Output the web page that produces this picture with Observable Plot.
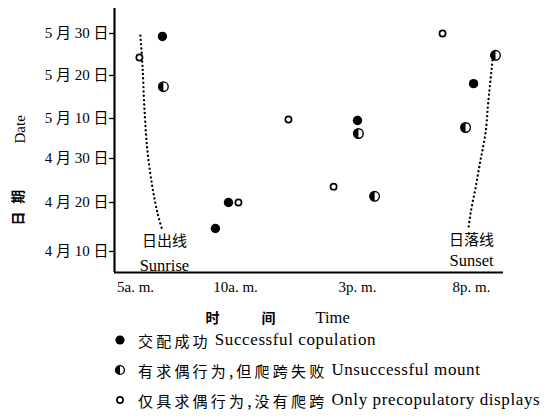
<!DOCTYPE html>
<html><head><meta charset="utf-8">
<script src="https://cdn.jsdelivr.net/npm/d3@7"></script>
<script src="https://cdn.jsdelivr.net/npm/@observablehq/plot@0.6"></script>
<style>
body{margin:0;background:#fff;}
#wrap{position:relative;width:556px;height:417px;overflow:hidden;font-family:"Liberation Serif","Noto Sans CJK SC",serif;color:#000;}
#legend{position:absolute;left:0;top:325px;}
.row{height:30px;display:flex;align-items:center;padding-left:114px;white-space:nowrap;}
.row svg{margin-right:12px;flex:none}
.cjk{font-family:"Noto Sans CJK SC";font-size:15px;letter-spacing:3.2px;}
.lat{font-family:"Liberation Serif";font-size:17px;letter-spacing:0.6px;margin-left:4px;}
</style></head><body><div id="wrap"><div id="chart"></div><div id="legend"></div></div>
<script>
// hours of day (5 = 5 a.m., 20 = 8 p.m.); days counted from 0 April (40 = 10 May)
const successHour = [6.98, 9.71, 9.17, 20.09, 15.0];
const successDay  = [59.3, 20, 14.7, 48.1, 39.5];
const mountHour   = [7.02, 21.05, 19.74, 15.04, 15.75];
const mountDay    = [47.4, 54.8, 37.75, 36.25, 21.4];
const displayHour = [6.03, 10.12, 18.73, 12.17, 14.02];
const displayDay  = [54.3, 20, 60, 39.75, 23.6];
const sunriseHour = [6.07, 6.16, 6.24, 6.36, 6.57, 6.78, 6.98];
const sunriseDay  = [59.5, 51.9, 41.9, 32, 23.4, 17.8, 14.3];
const sunsetHour  = [20.92, 20.74, 20.61, 20.39, 20.18, 19.96, 19.87];
const sunsetDay   = [53.6, 44.2, 36.25, 29.5, 23.4, 17.8, 14.7];
const yTicks = [10, 20, 30, 40, 50, 60];
const yTickLabels = ["4 月 10 日", "4 月 20 日", "4 月 30 日", "5 月 10 日", "5 月 20 日", "5 月 30 日"];
const xTicks = [5, 10, 15, 20];
const xTickLabels = ["5a. m.", "10a. m.", "3p. m.", "8p. m."];
const legendLabels = [
  ["交配成功", "Successful copulation"],
  ["有求偶行为,但爬跨失败", "Unsuccessful mount"],
  ["仅具求偶行为,没有爬跨", "Only precopulatory displays"]
];

const pts = (hs, ds) => hs.map((h, i) => ({hour: h, day: ds[i]}));
const success = pts(successHour, successDay);
const mount = pts(mountHour, mountDay);
const display = pts(displayHour, displayDay);
const sunrise = pts(sunriseHour, sunriseDay);
const sunset = pts(sunsetHour, sunsetDay);

const halfLeft = {draw(ctx, size) {
  const r = Math.sqrt(size / Math.PI);
  ctx.moveTo(0, -r);
  ctx.arc(0, 0, r, -Math.PI / 2, Math.PI / 2, true);
  ctx.closePath();
}};

const serif = "Liberation Serif, Noto Sans CJK SC, serif";
const xDom = [5, 10, 15, 20, 21.4];
const yDom = [5.7, 10, 20, 30, 40, 50, 60, 65.95];
const tick = (ticks, labels) => d => labels[ticks.indexOf(d)];
const dotted = {x: "hour", y: "day", curve: "catmull-rom", stroke: "black", strokeWidth: 2.3, strokeDasharray: "0.1,4.2", strokeLinecap: "round"};

const chart = Plot.plot({
  width: 556, height: 328,
  marginLeft: 114, marginRight: 53, marginTop: 8, marginBottom: 56,
  style: {fontFamily: serif, fontSize: "14px", color: "black", background: "white"},
  x: {type: "linear", domain: xDom, range: [114, 235, 357, 471, 503]},
  y: {type: "linear", domain: yDom, range: [272, 251, 202, 158, 118, 75, 33, 8]},
  marks: [
    Plot.axisY(yTicks, {tickFormat: tick(yTicks, yTickLabels), tickSize: 5, tickPadding: 1, fontSize: 15, letterSpacing: 1.2, label: null, stroke: "black", strokeWidth: 1.3}),
    Plot.axisX(xTicks.slice(1), {tickFormat: tick(xTicks, xTickLabels), tickSize: 0, tickPadding: 9, fontSize: 15, letterSpacing: 0.8, label: null}),
    Plot.axisX(xTicks.slice(0, 1), {tickFormat: tick(xTicks, xTickLabels), tickSize: 0, tickPadding: 9, fontSize: 15, letterSpacing: 0.8, dx: 21, label: null}),
    Plot.ruleX([xDom[0]], {stroke: "black", strokeWidth: 2.2}),
    Plot.ruleY([yDom[0]], {stroke: "black", strokeWidth: 2.2}),
    Plot.line(sunrise, dotted),
    Plot.line(sunset, dotted),
    Plot.text(sunrise.slice(-1), {x: "hour", y: "day", text: () => "日出线", dx: 2, dy: 11, fontFamily: "Noto Sans CJK SC", fontSize: 15, letterSpacing: 3}),
    Plot.text(sunrise.slice(-1), {x: "hour", y: "day", text: () => "Sunrise", dx: 2, dy: 35, fontSize: 16.5}),
    Plot.text(sunset.slice(-1), {x: "hour", y: "day", text: () => "日落线", dx: 3, dy: 12, fontFamily: "Noto Sans CJK SC", fontSize: 15, letterSpacing: 3}),
    Plot.text(sunset.slice(-1), {x: "hour", y: "day", text: () => "Sunset", dx: 3, dy: 32, fontSize: 16.5}),
    Plot.dot(success, {x: "hour", y: "day", r: 4.7, fill: "black"}),
    Plot.dot(mount, {x: "hour", y: "day", r: 4.8, fill: "white", stroke: "black", strokeWidth: 1.4}),
    Plot.dot(mount, {x: "hour", y: "day", r: 4.8, symbol: halfLeft, fill: "black"}),
    Plot.dot(display, {x: "hour", y: "day", r: 3.1, fill: "white", stroke: "black", strokeWidth: 1.7}),
    Plot.text(["Date"], {frameAnchor: "left", rotate: -90, dx: -94, dy: 3, fontSize: 15}),
    Plot.text(["日\u2002\u200a期"], {frameAnchor: "left", rotate: -90, dx: -96, dy: 85, fontFamily: "Noto Sans CJK SC", fontSize: 14, fontWeight: 700}),
    Plot.text(["时\u2003\u2003\u2003间"], {frameAnchor: "bottom-left", textAnchor: "start", dx: 91, dy: 50, fontFamily: "Noto Sans CJK SC", fontSize: 14, fontWeight: 700}),
    Plot.text(["Time"], {frameAnchor: "bottom-left", textAnchor: "start", dx: 201, dy: 50, fontSize: 16.5})
  ]
});
document.getElementById("chart").appendChild(chart);

// legend
const sym = [
  '<circle cx="6" cy="6" r="4.6" fill="black"/>',
  '<circle cx="6" cy="6" r="4.4" fill="white" stroke="black" stroke-width="1.4"/><path d="M6,1.4 A4.6,4.6 0 0 0 6,10.6 Z" fill="black"/>',
  '<circle cx="6" cy="6" r="3.1" fill="white" stroke="black" stroke-width="1.7"/>'
];
const legend = document.getElementById("legend");
legendLabels.forEach(([zh, en], i) => {
  const row = document.createElement("div");
  row.className = "row";
  row.innerHTML = `<svg width="12" height="12">${sym[i]}</svg><span class="cjk">${zh}</span><span class="lat">${en}</span>`;
  legend.appendChild(row);
});
</script>
</body></html>
